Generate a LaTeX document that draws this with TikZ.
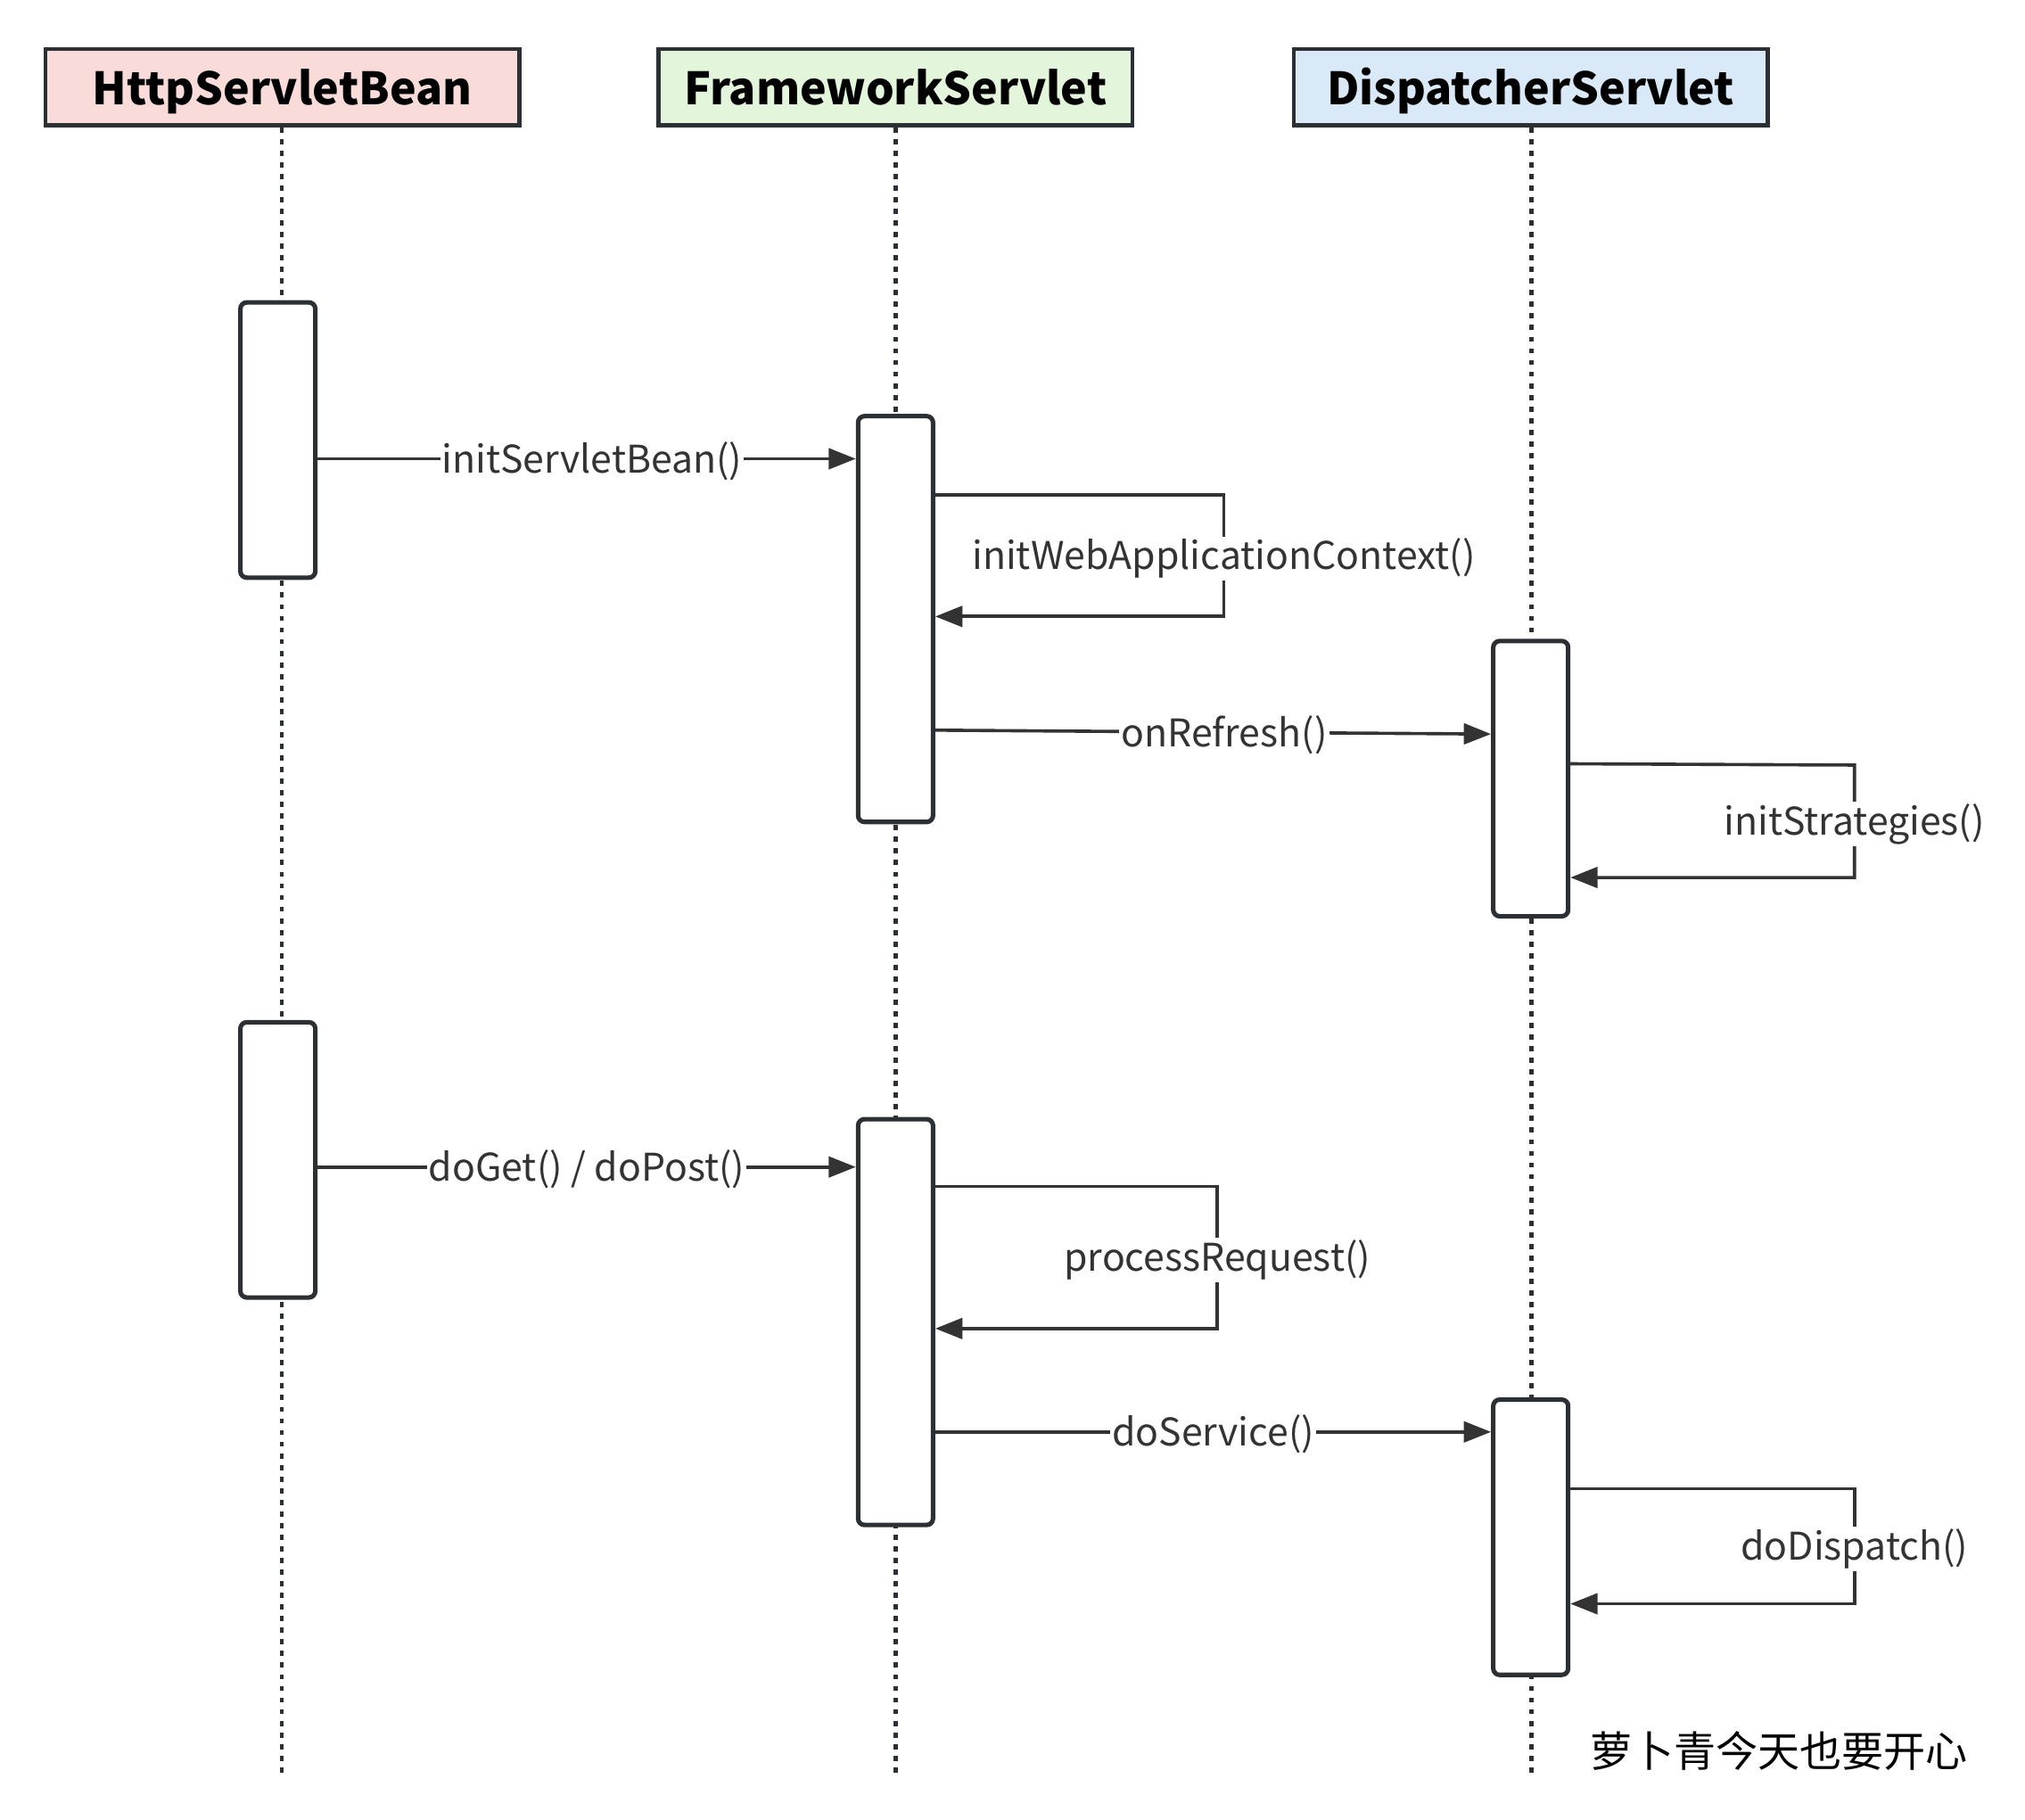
\documentclass[tikz,border=0pt]{standalone}
\usepackage{fontspec}
\setmainfont{Noto Sans CJK SC}
\usepackage{tikz}
\usetikzlibrary{arrows.meta}
\usepackage{xcolor}

\definecolor{hsbpink}{HTML}{F9DCDA}
\definecolor{fsgreen}{HTML}{E3F5DA}
\definecolor{dsblue}{HTML}{DAE9F8}
\definecolor{edge}{HTML}{2B3035}
\definecolor{wire}{HTML}{333333}

\begin{document}
\begin{tikzpicture}[x=1pt, y=-1pt,
	header/.style={draw=edge, line width=3pt, minimum width=367pt, minimum height=59pt, inner sep=0pt, text depth=1pt, font=\fontsize{34.5}{40}\selectfont\bfseries},
	lifeline/.style={draw=edge, line width=3pt, dash pattern=on 4pt off 5pt},
	act/.style={draw=edge, fill=white, line width=3.5pt, rounded corners=5pt, minimum width=58pt, inner sep=0pt},
	msg/.style={draw=wire, line width=2.5pt, -{Triangle[length=21pt,width=16pt]}},
	lbl/.style={fill=white, text=wire, inner sep=1.5pt, yshift=-2pt, font=\fontsize{29.5}{34}\selectfont}]
\useasboundingbox (0,0) rectangle (1567,1408);
% lanes
\node [header, fill=hsbpink] (hsb) at (218.5,67.5) {HttpServletBean};
\node [header, fill=fsgreen] (fs) at (693,67.5) {FrameworkServlet};
\node [header, fill=dsblue] (ds) at (1184.5,67.5) {DispatcherServlet};
\coordinate (hsbEnd) at (218,1375);
\coordinate (fsEnd) at (693,1375);
\coordinate (dsEnd) at (1185,1375);
\draw [lifeline] (hsb.south -| hsbEnd) -- (hsbEnd);
\draw [lifeline] (fs.south) -- (fsEnd);
\draw [lifeline] (ds.south -| dsEnd) -- (dsEnd);
% activations
\node [act, minimum height=213pt] (hsbA) at (215,340.5) {};
\node [act, minimum height=314pt] (fsA) at (693,479) {};
\node [act, minimum height=213pt] (dsA) at (1184.5,602.5) {};
\node [act, minimum height=213pt] (hsbB) at (215,897.5) {};
\node [act, minimum height=314pt] (fsB) at (693,1023) {};
\node [act, minimum height=213pt] (dsB) at (1184.5,1189.5) {};
% init
\draw [msg] (hsbA.east |- 0,355) -- node[lbl, pos=0.51]{initServletBean()} (fsA.west |- 0,355);
\draw [msg] (fsA.east |- 0,383) -- (947,383) -- node[lbl]{initWebApplicationContext()} (947,477) -- (fsA.east |- 0,477);
\draw [msg] (fsA.east |- 0,565) -- node[lbl, pos=0.52]{onRefresh()} (dsA.west |- 0,568);
\draw [msg] (dsA.east |- 0,591) -- (1435,592) -- node[lbl]{initStrategies()} (1435,679) -- (dsA.east |- 0,679);
% request
\draw [msg] (hsbB.east |- 0,903) -- node[lbl]{doGet() / doPost()} (fsB.west |- 0,903);
\draw [msg] (fsB.east |- 0,918) -- (942,918) -- node[lbl]{processRequest()} (942,1028) -- (fsB.east |- 0,1028);
\draw [msg] (fsB.east |- 0,1108) -- node[lbl]{doService()} (dsB.west |- 0,1108);
\draw [msg] (dsB.east |- 0,1152) -- (1435,1152) -- node[lbl]{doDispatch()} (1435,1241) -- (dsB.east |- 0,1241);
\node [anchor=east, inner sep=0pt, font=\fontsize{32.5}{38}\selectfont] (sign) at (1523,1355) {萝卜青今天也要开心};
\end{tikzpicture}
\end{document}
